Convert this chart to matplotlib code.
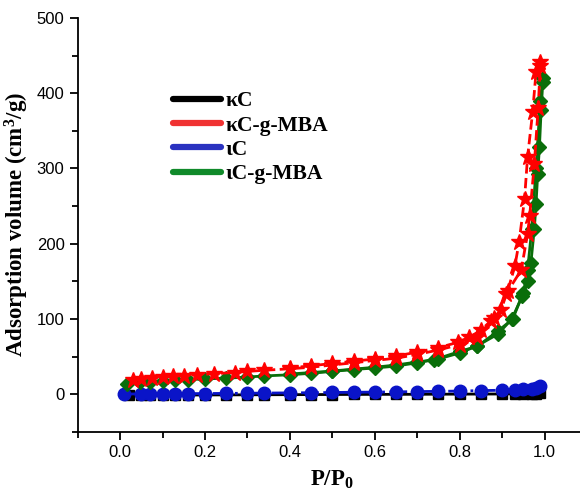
import matplotlib
matplotlib.use("Agg")
import matplotlib.pyplot as plt
from matplotlib.lines import Line2D
from matplotlib.ticker import MultipleLocator

plt.rcParams['font.family'] = ['Liberation Sans', 'DejaVu Sans']
plt.rcParams['mathtext.default'] = 'regular'

labels = ['κC', 'κC-g-MBA', 'ιC', 'ιC-g-MBA']

kc_x = [0.02, 0.05, 0.07, 0.10, 0.13, 0.16, 0.20, 0.25, 0.30, 0.34, 0.40, 0.45, 0.50,
        0.55, 0.60, 0.65, 0.70, 0.75, 0.80, 0.85, 0.90, 0.93, 0.95, 0.97, 0.98, 0.99]
kc_y = [-1.2, -1.1, -1.0, -1.0, -0.9, -0.9, -0.8, -0.7, -0.6, -0.5, -0.4, -0.3, -0.2,
        -0.1, 0.0, 0.0, 0.1, 0.2, 0.3, 0.4, 0.5, 0.6, 0.7, 0.9, 1.0, 1.3]

kcg_ads_x = [0.03, 0.05, 0.075, 0.10, 0.125, 0.15, 0.18, 0.22, 0.27, 0.30, 0.34, 0.40, 0.45,
             0.50, 0.55, 0.60, 0.65, 0.70, 0.75, 0.80, 0.84, 0.882, 0.909, 0.945, 0.96,
             0.965, 0.976, 0.985, 0.99]
kcg_ads_y = [19, 20, 21.5, 22.5, 24, 25, 26, 27.5, 29, 30.5, 32, 34, 36,
             39, 42, 45, 48, 53, 59, 66, 76, 102, 133, 165, 213,
             237, 306, 380, 436]
kcg_des_x = [0.99, 0.98, 0.972, 0.96, 0.953, 0.94, 0.93, 0.913, 0.897, 0.874, 0.85,
             0.823, 0.795, 0.75, 0.70, 0.65, 0.60, 0.55, 0.50, 0.45, 0.40]
kcg_des_y = [442, 428, 375, 315, 260, 202, 170, 137, 112, 98, 85,
             76, 69, 62, 56, 51, 47, 44, 41, 38, 35]

ic_x = [0.01, 0.05, 0.07, 0.10, 0.13, 0.16, 0.20, 0.25, 0.30, 0.34, 0.40, 0.45, 0.50,
        0.55, 0.60, 0.65, 0.70, 0.75, 0.80, 0.85, 0.90, 0.93, 0.95, 0.97, 0.98, 0.99]
ic_y = [0.5, 0.6, 0.7, 0.8, 0.9, 1.0, 1.1, 1.3, 1.5, 1.7, 2.0, 2.2, 2.5,
        2.8, 3.0, 3.3, 3.7, 4.0, 4.4, 5.0, 5.5, 6.0, 6.5, 7.5, 8.5, 10.5]

icg_ads_x = [0.015, 0.046, 0.07, 0.10, 0.13, 0.16, 0.20, 0.25, 0.30, 0.34, 0.40, 0.45,
             0.50, 0.55, 0.60, 0.65, 0.70, 0.75, 0.80, 0.84, 0.89, 0.923, 0.947, 0.962,
             0.968, 0.976, 0.98, 0.984, 0.988, 0.992, 0.996]
icg_ads_y = [14, 16, 17, 18, 19, 19.5, 20.5, 21.5, 23, 24.5, 26, 28,
             30.5, 33, 35, 37.5, 42, 47, 55, 64, 80, 100, 130, 150,
             175, 220, 253, 293, 328, 377, 415]
icg_des_x = [0.996, 0.99, 0.98, 0.97, 0.96, 0.95, 0.925, 0.89, 0.842, 0.80, 0.74, 0.70,
             0.65, 0.60, 0.50, 0.40]
icg_des_y = [420, 390, 300, 220, 165, 135, 100, 84, 64, 57, 46, 43,
             39, 36, 31, 27]

fig = plt.figure(figsize=(5.8, 4.96), dpi=100)
ax = fig.add_axes([0.134, 0.129, 0.878, 0.835])

ax.plot(kc_x, kc_y, color='black', lw=2, marker='s', ms=7, zorder=1)
ax.plot(ic_x, ic_y, color='#0a14c8', lw=2, ls='-.', marker='o', ms=9, zorder=2)
ax.plot(icg_ads_x, icg_ads_y, color='#0a6e0a', lw=2, marker='D', ms=7, zorder=3)
ax.plot(icg_des_x, icg_des_y, color='#0a6e0a', lw=2, marker='D', ms=7, zorder=3)
ax.plot(kcg_ads_x, kcg_ads_y, color='#ff0000', lw=2, ls='--', marker='*', ms=12, zorder=4)
ax.plot(kcg_des_x, kcg_des_y, color='#ff0000', lw=2, ls='--', marker='*', ms=12, zorder=4)

ax.set_xlim(-0.1, 1.1)
ax.set_ylim(-50, 500)
ax.spines['top'].set_visible(False)
ax.spines['right'].set_visible(False)
for s in ['left', 'bottom']:
    ax.spines[s].set_linewidth(1.3)
ax.xaxis.set_minor_locator(MultipleLocator(0.1))
ax.yaxis.set_minor_locator(MultipleLocator(50))
ax.set_xticks([0.0, 0.2, 0.4, 0.6, 0.8, 1.0])
ax.set_xticklabels(['0.0', '0.2', '0.4', '0.6', '0.8', '1.0'])
ax.set_yticks([0, 100, 200, 300, 400, 500])
ax.tick_params(which='major', direction='out', length=6, width=1.3, labelsize=12)
ax.tick_params(which='minor', direction='out', length=4, width=1.3)

serif = {'family': ['Liberation Serif', 'DejaVu Serif'], 'weight': 'bold', 'size': 16.5}
ax.set_xlabel('P/P$_0$', fontdict=serif, labelpad=6)
ax.set_ylabel('Adsorption volume (cm$^3$/g)', fontdict=serif, labelpad=4)

colors = ['black', '#f03232', '#2a32c0', '#108a2a']
handles = [Line2D([0], [0], color=c, lw=4.5, solid_capstyle='round') for c in colors]
leg = ax.legend(handles, labels, loc='upper left', bbox_to_anchor=(0.15, 0.87),
                frameon=False, handlelength=2.2, handletextpad=0.2, labelspacing=0.2,
                prop={'family': ['Liberation Serif', 'DejaVu Serif'], 'weight': 'bold', 'size': 15.5})

fig.savefig('out.png', dpi=100)
